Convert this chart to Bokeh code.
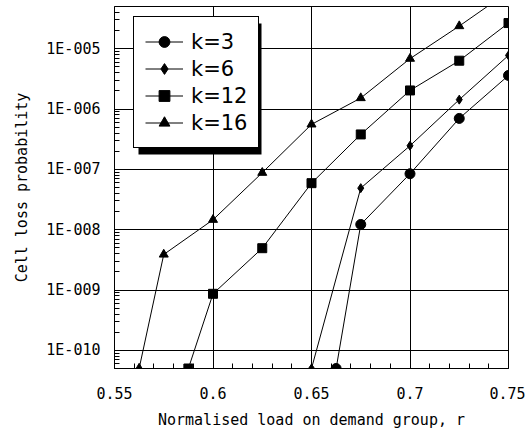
from bokeh.plotting import figure
from bokeh.models import (Range1d, Legend, LegendItem, BoxAnnotation, SingleIntervalTicker,
                          LogTicker, CustomJSTickFormatter)
from bokeh.embed import file_html
from bokeh.resources import INLINE

# ---- data ----
AXIS_MIN = 5e-11  # values below the axis are drawn on the bottom edge

k3_x = [0.6625, 0.675, 0.7, 0.725, 0.75]
k3_y = [AXIS_MIN, 1.22e-8, 8.45e-8, 6.98e-7, 3.6e-6]

k6_x = [0.65, 0.675, 0.7, 0.725, 0.75]
k6_y = [AXIS_MIN, 4.88e-8, 2.46e-7, 1.43e-6, 7.74e-6]

k12_x = [0.5875, 0.6, 0.625, 0.65, 0.675, 0.7, 0.725, 0.75]
k12_y = [AXIS_MIN, 8.65e-10, 4.93e-9, 5.9e-8, 3.79e-7, 2.03e-6, 6.32e-6, 2.66e-5]

k16_x = [0.5625, 0.575, 0.6, 0.625, 0.65, 0.675, 0.7, 0.725, 0.75]
k16_y = [AXIS_MIN, 3.88e-9, 1.46e-8, 8.79e-8, 5.56e-7, 1.52e-6, 6.83e-6, 2.37e-5, 8.8e-5]

series_labels = ["k=3", "k=6", "k=12", "k=16"]

x_ticks = [0.55, 0.6, 0.65, 0.7, 0.75]
x_tick_labels = ["0.55", "0.6", "0.65", "0.7", "0.75"]
y_exps = [-10, -9, -8, -7, -6, -5]
y_tick_labels = ["1E-010", "1E-009", "1E-008", "1E-007", "1E-006", "1E-005"]

x_label = "Normalised load on demand group, r"
y_label = "Cell loss probability"

MONO = "DejaVu Sans Mono"

p = figure(width=525, height=432, output_backend="svg", toolbar_location=None,
           y_axis_type="log",
           x_range=Range1d(0.55, 0.75), y_range=Range1d(5e-11, 5e-5),
           min_border_left=114, min_border_right=17, min_border_top=6, min_border_bottom=64)

p.background_fill_color = "white"
p.border_fill_color = "white"
p.outline_line_color = "black"
p.outline_line_width = 1
p.outline_line_alpha = 1

# axes
p.xaxis.ticker = SingleIntervalTicker(interval=0.05, num_minor_ticks=5)
p.yaxis.ticker = LogTicker(num_minor_ticks=10)
p.xaxis.formatter = CustomJSTickFormatter(
    args=dict(xt=x_ticks, xl=x_tick_labels),
    code="""
    for (let i = 0; i < xt.length; i++) { if (Math.abs(xt[i]-tick) < 1e-6) return xl[i]; }
    return '';
    """)
p.yaxis.formatter = CustomJSTickFormatter(
    args=dict(ye=y_exps, yl=y_tick_labels),
    code="""
    const e = Math.round(Math.log10(tick));
    const i = ye.indexOf(e);
    return i >= 0 ? yl[i] : '';
    """)

for ax in (p.xaxis[0], p.yaxis[0]):
    ax.axis_line_color = None
    ax.major_tick_in = 6
    ax.major_tick_out = 0
    ax.minor_tick_in = 5
    ax.minor_tick_out = 0
    ax.major_tick_line_color = "black"
    ax.minor_tick_line_color = "black"
    ax.major_label_text_font = MONO
    ax.major_label_text_font_size = "15px"
    ax.major_label_text_color = "black"
    ax.axis_label_text_font = MONO
    ax.axis_label_text_font_size = "15px"
    ax.axis_label_text_font_style = "normal"
    ax.axis_label_text_color = "black"

p.xaxis.axis_label = x_label
p.yaxis.axis_label = y_label
p.xaxis.major_label_standoff = 18
p.xaxis.axis_label_standoff = 9
p.yaxis.major_label_standoff = 14
p.yaxis.axis_label_standoff = 12

p.xgrid.ticker = SingleIntervalTicker(interval=0.05)
for g in (p.xgrid[0], p.ygrid[0]):
    g.grid_line_color = "black"
    g.grid_line_alpha = 1
    g.grid_line_width = 1

# series
specs = [
    (k3_x, k3_y, "circle", 10),
    (k6_x, k6_y, "diamond", 9),
    (k12_x, k12_y, "square", 9),
    (k16_x, k16_y, "triangle", 9),
]
items = []
for (xs, ys, mk, sz), lab in zip(specs, series_labels):
    ln = p.line(xs, ys, line_color="black", line_width=1)
    sc = p.scatter(xs, ys, marker=mk, size=sz, fill_color="black", line_color="black")
    items.append(LegendItem(label=lab, renderers=[ln, sc]))

# legend shadow
shadow = BoxAnnotation(left=24, right=147, top=345, bottom=214,
                       left_units="screen", right_units="screen",
                       top_units="screen", bottom_units="screen",
                       fill_color="black", fill_alpha=1, line_color=None)
p.add_layout(shadow)

legend = Legend(items=items, location=(19, 220),
                label_text_font="DejaVu Sans", label_text_font_size="21px",
                label_text_color="black",
                glyph_width=38, glyph_height=27, label_height=27, label_standoff=8,
                padding=11, spacing=0, margin=0,
                border_line_color="black", border_line_width=1, border_line_alpha=1,
                background_fill_color="white", background_fill_alpha=1)
p.add_layout(legend)

open("out.html", "w").write(file_html(p, INLINE))
